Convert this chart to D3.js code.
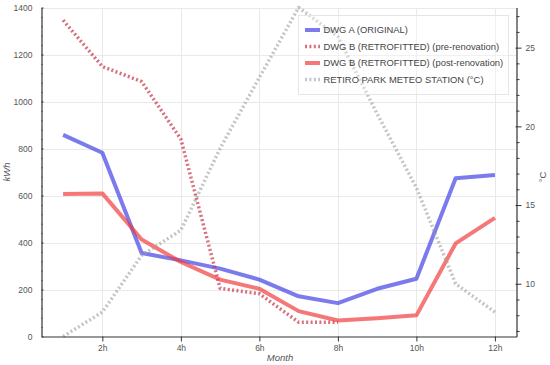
<!DOCTYPE html>
<html><head><meta charset="utf-8">
<script src="https://cdn.jsdelivr.net/npm/d3@7"></script>
<style>
html,body{margin:0;padding:0;background:#fff;}
svg{display:block;font-family:"Liberation Sans",Arial,sans-serif;}
</style></head>
<body>
<svg id="chart" width="550" height="365"></svg>
<script>
const months = [1,2,3,4,5,6,7,8,9,10,11,12];
const dwgA = [858, 782, 355, 324, 289, 242, 171, 142, 203, 246, 673, 687];
const dwgBPreMonths = [1,2,3,4,5,6,7,8];
const dwgBPre = [1346, 1149, 1085, 840, 205, 182, 61, 61];
const dwgBPost = [606, 609, 413, 317, 242, 203, 108, 68, 78, 90, 396, 505];
const tempC = [6.65, 8.2, 11.8, 13.4, 18.6, 23.1, 27.55, 25.7, 20.8, 16.1, 10.0, 8.2];
const xTickMonths = [2,4,6,8,10,12];
const xTickLabels = ["2h","4h","6h","8h","10h","12h"];
const yTicks = [0,200,400,600,800,1000,1200,1400];
const y2Ticks = [10,15,20,25];
const seriesNames = ["DWG A (ORIGINAL)","DWG B (RETROFITTED) (pre-renovation)","DWG B (RETROFITTED) (post-renovation)","RETIRO PARK METEO STATION (°C)"];

const svg = d3.select("#chart");
const L = 41.5, R = 516.5, T = 7.5, B = 336.5;

const x = d3.scaleLinear().domain([0.45, 12.55]).range([L, R]);
const y = d3.scaleLinear().domain([0, 1400]).range([B, T]);
const y2 = d3.scaleLinear().domain(d3.extent(tempC)).range([B, T]);

// grid
const grid = svg.append("g");
grid.selectAll("line.h").data(yTicks.filter(d => d > 0)).join("line")
  .attr("x1", L).attr("x2", R).attr("y1", d => Math.round(y(d)) + 0.5).attr("y2", d => Math.round(y(d)) + 0.5)
  .attr("stroke", "#e9e9e9").attr("stroke-width", 1);
grid.selectAll("line.v").data(xTickMonths).join("line")
  .attr("y1", T).attr("y2", B).attr("x1", d => Math.round(x(d)) + 0.5).attr("x2", d => Math.round(x(d)) + 0.5)
  .attr("stroke", "#e9e9e9").attr("stroke-width", 1);

// lines
const lineL = d3.line().x(d => x(d[0])).y(d => y(d[1]));
const lineR = d3.line().x(d => x(d[0])).y(d => y2(d[1]));
const plot = svg.append("g");
const styles = [
  {color: "rgba(60,60,230,0.68)", dash: null, w: 4},
  {color: "rgba(200,55,75,0.72)", dash: "2,2.4", w: 3.5},
  {color: "rgba(240,55,55,0.68)", dash: null, w: 4},
  {color: "rgba(160,160,160,0.62)", dash: "2,2.4", w: 3.5}
];
const data = [
  {pts: months.map((m,i) => [m, dwgA[i]]), gen: lineL},
  {pts: dwgBPreMonths.map((m,i) => [m, dwgBPre[i]]), gen: lineL},
  {pts: months.map((m,i) => [m, dwgBPost[i]]), gen: lineL},
  {pts: months.map((m,i) => [m, tempC[i]]), gen: lineR}
];
data.forEach((s, i) => {
  plot.append("path").attr("d", s.gen(s.pts)).attr("fill", "none")
    .attr("stroke", styles[i].color).attr("stroke-width", styles[i].w)
    .attr("stroke-linejoin", "round")
    .attr("stroke-dasharray", styles[i].dash);
});

// axes
function styleAxis(g, fs) {
  g.select(".domain").attr("stroke", "#333").attr("stroke-width", 1.2);
  g.selectAll(".tick line").attr("stroke", "#333");
  g.selectAll(".tick text").attr("fill", "#555").style("font-size", fs + "px")
    .style("font-family", "'Liberation Sans',Arial,sans-serif");
}
// left
const gyMinor = svg.append("g").attr("transform", `translate(${L},0)`)
  .call(d3.axisLeft(y).tickValues(d3.range(0, 1401, 40).filter(d => d % 200 !== 0)).tickSize(3).tickFormat(""));
gyMinor.select(".domain").remove();
gyMinor.selectAll(".tick line").attr("stroke", "#333").attr("x2", 1);
const gy = svg.append("g").attr("transform", `translate(${L},0)`)
  .call(d3.axisLeft(y).tickValues(yTicks).tickFormat(d3.format("d")).tickSize(5).tickSizeOuter(0).tickPadding(4));
styleAxis(gy, 8.5);
gy.selectAll(".tick line").attr("x2", 2);

// right
const gy2Minor = svg.append("g").attr("transform", `translate(${R},0)`)
  .call(d3.axisRight(y2).tickValues(d3.range(7, 28, 1).filter(d => d % 5 !== 0)).tickSize(3).tickFormat(""));
gy2Minor.select(".domain").remove();
gy2Minor.selectAll(".tick line").attr("stroke", "#333");
const gy2 = svg.append("g").attr("transform", `translate(${R},0)`)
  .call(d3.axisRight(y2).tickValues(y2Ticks).tickFormat(d3.format("d")).tickSize(5).tickSizeOuter(0).tickPadding(4));
styleAxis(gy2, 8.5);
gy2.selectAll(".tick line").attr("x1", -1);

// bottom
const gx = svg.append("g").attr("transform", `translate(0,${B})`)
  .call(d3.axisBottom(x).tickValues(xTickMonths).tickFormat((d,i) => xTickLabels[i]).tickSize(5).tickSizeOuter(0).tickPadding(3));
styleAxis(gx, 8.5);

// axis titles
svg.append("text").attr("x", 280).attr("y", 361).attr("text-anchor", "middle")
  .attr("font-style", "italic").attr("font-size", 9.5).attr("fill", "#555").text("Month");
svg.append("text").attr("transform", "translate(10,172) rotate(-90)").attr("text-anchor", "middle")
  .attr("font-style", "italic").attr("font-size", 9.5).attr("fill", "#555").text("kWh");
svg.append("text").attr("transform", "translate(546,177) rotate(-90)").attr("text-anchor", "middle")
  .attr("font-size", 9.5).attr("fill", "#555").text("°C");

// legend
const lg = svg.append("g");
lg.append("rect").attr("x", 298.5).attr("y", 15.5).attr("width", 210).attr("height", 79)
  .attr("fill", "rgba(255,255,255,0.35)").attr("stroke", "#e6e6e6").attr("stroke-width", 1);
const rowY = [29.5, 46, 62.5, 79];
seriesNames.forEach((name, i) => {
  lg.append("line").attr("x1", 305).attr("x2", 320).attr("y1", rowY[i] + 0.5).attr("y2", rowY[i] + 0.5)
    .attr("stroke", styles[i].color).attr("stroke-width", styles[i].w)
    .attr("stroke-dasharray", styles[i].dash);
  lg.append("text").attr("x", 323.5).attr("y", rowY[i] + 3.5).attr("font-size", 9.4)
    .attr("fill", "#444").text(name);
});
</script>
</body></html>
